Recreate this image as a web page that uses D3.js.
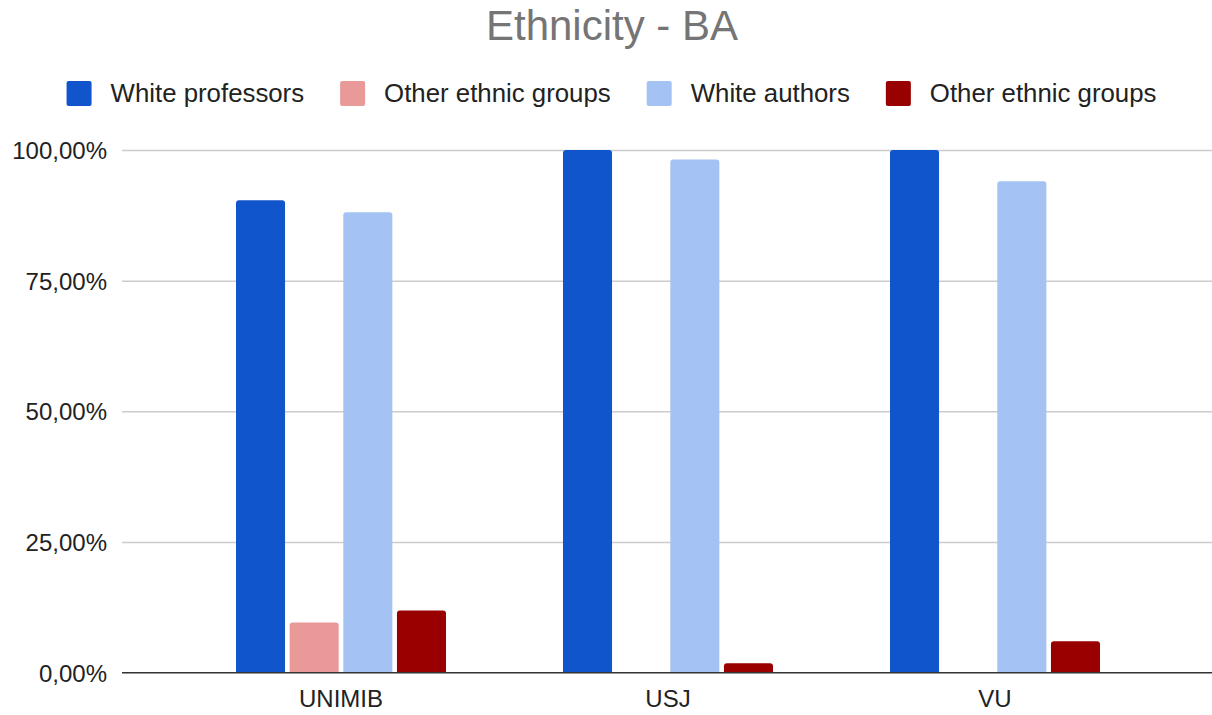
<!DOCTYPE html>
<html>
<head>
<meta charset="utf-8">
<script src="https://cdn.jsdelivr.net/npm/d3@7/dist/d3.min.js"></script>
<style>
  html, body { margin: 0; padding: 0; background: #fff; }
  svg { display: block; font-family: Arial, "Liberation Sans", sans-serif; }
</style>
</head>
<body>
<svg id="chart" width="1212" height="715"></svg>
<script>
// Universities (x categories)
const categories = ["UNIMIB", "USJ", "VU"];

// Series names, in legend order
const seriesNames = ["White professors", "Other ethnic groups", "White authors", "Other ethnic groups"];
const seriesColors = ["#1155cc", "#ea9999", "#a4c2f4", "#990000"];

// Shares per university (percent)
const whiteProfessors      = [90.4, 100, 100];
const otherProfessors      = [9.6, 0, 0];
const whiteAuthors         = [88.1, 98.2, 94.0];
const otherAuthors         = [11.9, 1.8, 6.0];

// Y axis ticks
const yTicks = [0, 25, 50, 75, 100];
const yTickLabels = ["0,00%", "25,00%", "50,00%", "75,00%", "100,00%"];

const seriesValues = [whiteProfessors, otherProfessors, whiteAuthors, otherAuthors];

const svg = d3.select("#chart");
const W = 1212;

// Plot geometry
const gridLeft = 122, gridRight = 1212;
const y = d3.scaleLinear().domain([0, 100]).range([672.7, 150]);
const x0 = d3.scaleBand().domain(categories).range([177.5, 1158.5]).paddingInner(0).paddingOuter(0);
const x1 = d3.scaleBand().domain(d3.range(seriesNames.length)).range([0, 210]).paddingInner(0.086).paddingOuter(0);

// Title
svg.append("text")
  .attr("x", 612).attr("y", 40)
  .attr("text-anchor", "middle")
  .attr("fill", "#757575")
  .attr("font-size", 42)
  .text("Ethnicity - BA");

// Legend
const legend = svg.append("g").attr("class", "legend");
const items = legend.selectAll("g").data(seriesNames).join("g");
items.append("rect")
  .attr("width", 25).attr("height", 25)
  .attr("y", 81).attr("rx", 2)
  .attr("fill", (d, i) => seriesColors[i]);
items.append("text")
  .attr("x", 44).attr("y", 102)
  .attr("font-size", 25.8)
  .attr("fill", "#222")
  .text(d => d);
let cursor = 0;
const offsets = [];
const gapAfter = 36;
items.each(function () {
  const tw = d3.select(this).select("text").node().getComputedTextLength();
  offsets.push(cursor);
  cursor += 44 + tw + gapAfter;
});
const totalW = cursor - gapAfter;
const legendStart = 611.5 - totalW / 2;
items.attr("transform", (d, i) => `translate(${legendStart + offsets[i]},0)`);

// Horizontal gridlines
const grid = svg.append("g")
  .attr("transform", `translate(${gridLeft},0)`)
  .call(d3.axisLeft(y).tickValues(yTicks.filter(t => t > 0)).tickSize(-(gridRight - gridLeft)).tickFormat(""));
grid.select(".domain").remove();
grid.selectAll(".tick line").attr("stroke", "#cccccc").attr("stroke-width", 1.5);

// Y tick labels
const yAxis = svg.append("g")
  .attr("transform", `translate(107,0)`)
  .call(d3.axisLeft(y).tickValues(yTicks).tickSize(0).tickPadding(0)
    .tickFormat((d, i) => yTickLabels[i]));
yAxis.select(".domain").remove();
yAxis.selectAll("text")
  .attr("font-size", 24)
  .attr("font-family", "Arial, 'Liberation Sans', sans-serif")
  .attr("fill", "#222")
  .attr("dy", "0.35em");

// Bars, top corners rounded
function barPath(x, w, yTop, yBase, r) {
  const h = yBase - yTop;
  if (h <= 0) return "";
  const rr = Math.min(r, h, w / 2);
  return `M${x},${yBase}V${yTop + rr}Q${x},${yTop} ${x + rr},${yTop}` +
         `H${x + w - rr}Q${x + w},${yTop} ${x + w},${yTop + rr}V${yBase}Z`;
}

const groups = svg.append("g").selectAll("g")
  .data(categories).join("g")
  .attr("transform", d => `translate(${x0(d) + (x0.bandwidth() - 210) / 2},0)`);

groups.selectAll("path")
  .data((c, ci) => seriesValues.map((vals, si) => ({ si, v: vals[ci] })))
  .join("path")
  .attr("fill", d => seriesColors[d.si])
  .attr("d", d => barPath(x1(d.si), x1.bandwidth(), y(d.v), y(0), 3));

// Baseline
svg.append("line")
  .attr("x1", gridLeft).attr("x2", gridRight)
  .attr("y1", y(0)).attr("y2", y(0))
  .attr("stroke", "#333").attr("stroke-width", 1.5);

// X labels
const xAxis = svg.append("g")
  .attr("transform", `translate(0,${y(0)})`)
  .call(d3.axisBottom(x0).tickSize(0).tickPadding(0));
xAxis.select(".domain").remove();
xAxis.selectAll("text")
  .attr("font-size", 24)
  .attr("font-family", "Arial, 'Liberation Sans', sans-serif")
  .attr("fill", "#222")
  .attr("dy", null)
  .attr("y", 34);
</script>
</body>
</html>
